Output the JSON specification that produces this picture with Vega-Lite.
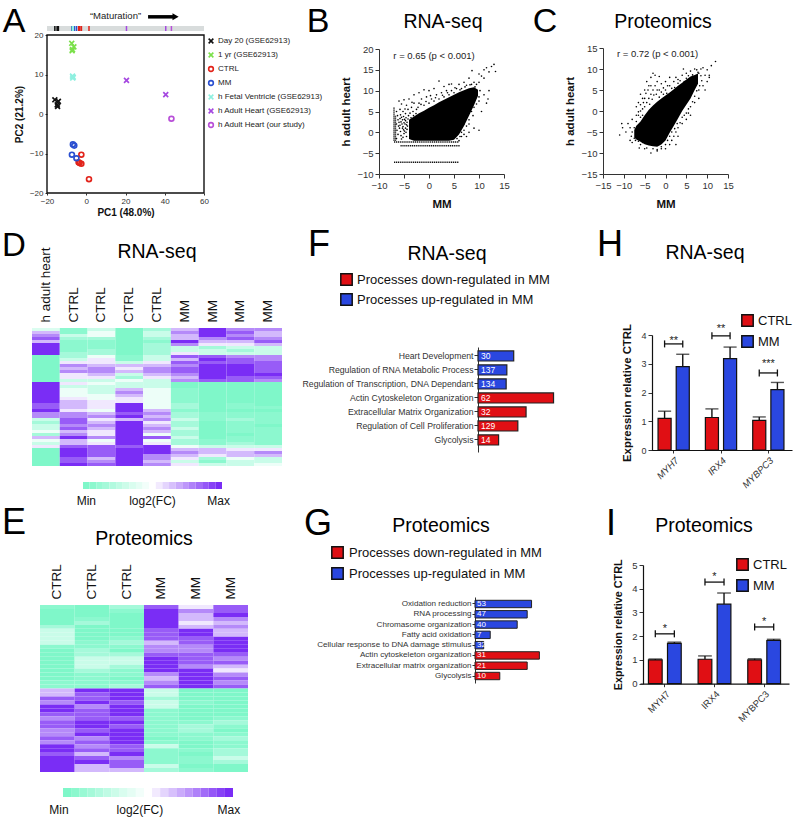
{"$schema":"https://vega.github.io/schema/vega-lite/v6.json","width":793,"height":819,"autosize":"none","padding":0,"background":"white",
"config":{"font":"Liberation Sans","view":{"stroke":null},"axis":{"grid":false,"labelColor":"#333","tickColor":"#333","domainColor":"#333","titleColor":"#111","labelFlush":false,"labelOverlap":false},"legend":{"title":null,"orient":"none","labelLimit":400}},
"resolve":{"scale":{"x":"independent","y":"independent","color":"independent","shape":"independent","xOffset":"independent"},"axis":{"x":"independent","y":"independent"},"legend":{"color":"independent","shape":"independent"}},
"datasets":{
"pca":[{"g":"Day 20 (GSE62913)","x":-16,"y":3.6},{"g":"Day 20 (GSE62913)","x":-14.2,"y":3.2},{"g":"Day 20 (GSE62913)","x":-14.8,"y":2.3},{"g":"Day 20 (GSE62913)","x":-14.6,"y":1.9},{"g":"1 yr (GSE62913)","x":-7.4,"y":17.9},{"g":"1 yr (GSE62913)","x":-6.3,"y":17},{"g":"1 yr (GSE62913)","x":-7.2,"y":16},{"g":"1 yr (GSE62913)","x":-7,"y":16.3},{"g":"CTRL","x":-2.5,"y":-10.3},{"g":"CTRL","x":-3.9,"y":-12.2},{"g":"CTRL","x":-2.5,"y":-12.6},{"g":"CTRL","x":-3.4,"y":-12.4},{"g":"CTRL","x":1.4,"y":-16.5},{"g":"MM","x":-6.8,"y":-7.7},{"g":"MM","x":-6.1,"y":-8},{"g":"MM","x":-7.3,"y":-10.3},{"g":"MM","x":-5,"y":-11.2},{"g":"h Fetal Ventricle (GSE62913)","x":-7,"y":9.6},{"g":"h Fetal Ventricle (GSE62913)","x":-6.6,"y":9.3},{"g":"h Fetal Ventricle (GSE62913)","x":-6.9,"y":9.1},{"g":"h Adult Heart (GSE62913)","x":20.5,"y":8.5},{"g":"h Adult Heart (GSE62913)","x":40.5,"y":4.9},{"g":"h Adult Heart (our study)","x":43.4,"y":-1.2}],
"bPts":[{"x":-6,"y":7.5},{"x":-5.5,"y":6.8},{"x":-5,"y":7.8},{"x":-4.5,"y":6.5},{"x":-4,"y":8},{"x":-3.5,"y":6},{"x":-3,"y":9},{"x":-3,"y":7},{"x":-2.5,"y":5.5},{"x":-2,"y":9.5},{"x":-2,"y":7},{"x":-1.5,"y":8},{"x":-1,"y":10.2},{"x":-1,"y":6.5},{"x":-0.5,"y":8.5},{"x":0,"y":10},{"x":0,"y":7},{"x":0.5,"y":8},{"x":1,"y":10.5},{"x":1,"y":7.5},{"x":1.5,"y":9},{"x":2,"y":12.3},{"x":2,"y":8},{"x":2.5,"y":9.5},{"x":3,"y":11},{"x":3,"y":8.5},{"x":3.5,"y":10},{"x":4,"y":11.5},{"x":4,"y":9},{"x":4.5,"y":11.6},{"x":4.5,"y":10},{"x":5,"y":9.5},{"x":5.5,"y":10.5},{"x":6,"y":11.5},{"x":6.5,"y":10.5},{"x":7,"y":12},{"x":7.5,"y":11.3},{"x":8,"y":13},{"x":8.5,"y":11.5},{"x":8.6,"y":14.8},{"x":9,"y":12},{"x":9.5,"y":11.5},{"x":10,"y":14},{"x":10,"y":12},{"x":10.5,"y":13.5},{"x":11,"y":15},{"x":11,"y":13},{"x":11.5,"y":15.5},{"x":12,"y":14.5},{"x":12.5,"y":15.8},{"x":13,"y":16.3},{"x":13.3,"y":14.6},{"x":7,"y":2},{"x":7.5,"y":4},{"x":8,"y":3},{"x":9,"y":1},{"x":10,"y":0.5},{"x":10.5,"y":5},{"x":11.5,"y":7},{"x":11.8,"y":8},{"x":12,"y":10},{"x":11,"y":9},{"x":8,"y":0},{"x":6.5,"y":0},{"x":6,"y":1},{"x":7,"y":0.5},{"x":8.5,"y":5},{"x":9,"y":6},{"x":10,"y":7.5},{"x":7.5,"y":1.5},{"x":6.5,"y":-1},{"x":7.5,"y":-1},{"x":6,"y":-2},{"x":-6.5,"y":5},{"x":-6.3,"y":4},{"x":-6.2,"y":3},{"x":-6.5,"y":2},{"x":-6.1,"y":1.5},{"x":-6.4,"y":0.5},{"x":-6.2,"y":-0.5},{"x":-6.5,"y":-1.5},{"x":-5.8,"y":5.5},{"x":-5.7,"y":4.2},{"x":-5.8,"y":3.3},{"x":-5.6,"y":2.5},{"x":-5.8,"y":1.7},{"x":-5.7,"y":0.2},{"x":-5.6,"y":-0.8},{"x":-5.5,"y":-1.6},{"x":-5.2,"y":5},{"x":-5.1,"y":3.8},{"x":-5.3,"y":3},{"x":-5,"y":2.3},{"x":-5.2,"y":1.4},{"x":-5.1,"y":0.6},{"x":-5,"y":-0.3},{"x":-5.2,"y":-1.2},{"x":-4.7,"y":4.5},{"x":-4.6,"y":3.5},{"x":-4.7,"y":2.8},{"x":-4.5,"y":1.8},{"x":-4.7,"y":1},{"x":-4.6,"y":0},{"x":-4.5,"y":-1},{"x":-4.2,"y":5.5},{"x":-4.1,"y":4},{"x":-4.2,"y":3.2},{"x":-3.8,"y":4.6},{"x":-3.6,"y":3.5},{"x":-3.2,"y":5},{"x":-3.1,"y":4},{"x":-2.6,"y":4.5},{"x":-6,"y":2.4},{"x":-5.4,"y":2},{"x":-5.9,"y":1},{"x":-5.3,"y":1},{"x":-4.8,"y":2},{"x":-4.3,"y":1.5},{"x":-4.4,"y":0.7},{"x":-4.9,"y":0.3},{"x":-5.5,"y":3.6},{"x":-4.9,"y":3.1},{"x":-4.4,"y":2.4},{"x":-4.8,"y":5.6},{"x":-3.4,"y":7.2},{"x":-2.2,"y":6},{"x":-1.6,"y":6.7},{"x":-0.6,"y":7.4},{"x":0.3,"y":8.8},{"x":1.3,"y":8.3},{"x":2.7,"y":8.9},{"x":3.7,"y":9.5},{"x":5.2,"y":10.7},{"x":6.2,"y":10.2},{"x":7.2,"y":10.9},{"x":8.2,"y":11.4},{"x":9.2,"y":10.9},{"x":10.2,"y":10},{"x":10,"y":8.5},{"x":9.5,"y":6.8},{"x":8.8,"y":4},{"x":8,"y":2},{"x":7,"y":-0.5},{"x":6.2,"y":-1},{"x":5.6,"y":-1.5}],
"bBlob":[{"x":-4,"lo":-1.6,"hi":3},{"x":-3,"lo":-2,"hi":3.8},{"x":-2,"lo":-2,"hi":4.6},{"x":-1,"lo":-2,"hi":5.2},{"x":0,"lo":-2,"hi":5.9},{"x":1,"lo":-2,"hi":6.5},{"x":2,"lo":-2,"hi":7.2},{"x":3,"lo":-2,"hi":7.8},{"x":4,"lo":-2,"hi":8.4},{"x":5,"lo":-1.8,"hi":9},{"x":6,"lo":-0.5,"hi":9.6},{"x":7,"lo":1.5,"hi":10.1},{"x":8,"lo":4,"hi":10.6},{"x":9,"lo":6.5,"hi":10.8},{"x":9.8,"lo":8.8,"hi":10.2}],
"bH":[{"x":-7,"x2":6,"y":-2.3},{"x":-5.7,"x2":6.2,"y":-3.2},{"x":-7,"x2":6,"y":-7.2}],
"bV":[{"x":-7,"y":-2,"y2":6},{"x":-6.7,"y":-2,"y2":4}],
"cPts":[{"x":-9,"y":-3},{"x":-10.5,"y":-3},{"x":-10.3,"y":-4},{"x":-11,"y":-5.7},{"x":-9.5,"y":-5},{"x":-8,"y":-5},{"x":-8.5,"y":-7},{"x":-8,"y":-7.5},{"x":-7.5,"y":-6.5},{"x":-7,"y":-1},{"x":-8,"y":-2},{"x":-7,"y":1},{"x":-6.5,"y":2},{"x":-6,"y":4},{"x":-6,"y":0},{"x":-5.5,"y":3},{"x":-5,"y":5},{"x":-5,"y":1},{"x":-4.5,"y":7},{"x":-4,"y":6},{"x":-4,"y":3},{"x":-3.5,"y":8},{"x":-3,"y":5},{"x":-3,"y":9},{"x":-2.5,"y":8.5},{"x":-2,"y":7},{"x":-2,"y":5},{"x":-1.5,"y":8.2},{"x":-1,"y":4.5},{"x":-1,"y":6.5},{"x":0,"y":5},{"x":0,"y":7},{"x":0.5,"y":6},{"x":1,"y":8},{"x":1,"y":6},{"x":2,"y":7},{"x":2.5,"y":8},{"x":3,"y":7.5},{"x":4,"y":8.5},{"x":4.3,"y":10},{"x":5,"y":9},{"x":6,"y":9.5},{"x":7,"y":10},{"x":7.5,"y":9.8},{"x":8,"y":9},{"x":8.5,"y":10},{"x":9,"y":10.3},{"x":9.5,"y":8.5},{"x":10,"y":9.8},{"x":10.5,"y":8},{"x":10,"y":7},{"x":10.5,"y":8.5},{"x":12,"y":11.8},{"x":11,"y":10.8},{"x":9,"y":6},{"x":9.5,"y":5},{"x":8,"y":5},{"x":8,"y":3},{"x":7,"y":2},{"x":6,"y":1},{"x":6,"y":-1},{"x":5.5,"y":-0.5},{"x":5,"y":-2},{"x":4.5,"y":-1},{"x":4,"y":-3},{"x":3,"y":-4},{"x":3,"y":-6},{"x":2.5,"y":-5},{"x":2,"y":-6},{"x":2.5,"y":-8},{"x":1.5,"y":-7},{"x":1,"y":-8},{"x":0,"y":-9},{"x":-1,"y":-9},{"x":-2,"y":-9.2},{"x":-3,"y":-9},{"x":-2,"y":-9.5},{"x":-3.5,"y":-10},{"x":-5,"y":-9},{"x":-6,"y":-8},{"x":-6.3,"y":-8.8},{"x":-1,"y":-8.5},{"x":-7,"y":-2.5},{"x":-6.5,"y":-1},{"x":-6.5,"y":-0.2},{"x":-6,"y":1.5},{"x":-6,"y":-1.5},{"x":-5.5,"y":0.5},{"x":-5.5,"y":-1},{"x":-5.3,"y":2},{"x":-5,"y":3},{"x":-4.7,"y":4.2},{"x":-4.5,"y":2},{"x":-4.2,"y":5},{"x":-3.8,"y":1.6},{"x":-3.5,"y":4},{"x":-3.5,"y":6},{"x":-3.2,"y":2.8},{"x":-2.8,"y":3.8},{"x":-2.5,"y":6},{"x":-2.2,"y":4},{"x":-1.5,"y":5},{"x":-1.5,"y":3.3},{"x":-0.5,"y":4},{"x":-0.5,"y":5.5},{"x":0.3,"y":4.2},{"x":1.5,"y":5.4},{"x":2.2,"y":5.6},{"x":3,"y":6.6},{"x":3.5,"y":7.2},{"x":4.5,"y":7},{"x":5,"y":7.8},{"x":5.5,"y":8.4},{"x":6.5,"y":8.6},{"x":7.8,"y":9.2},{"x":8.5,"y":8.4},{"x":8.7,"y":7.2},{"x":8.2,"y":6},{"x":7.5,"y":4.8},{"x":7,"y":3.5},{"x":6.5,"y":2.2},{"x":5.5,"y":0.5},{"x":5,"y":-0.5},{"x":4,"y":-1.5},{"x":3.5,"y":-2.8},{"x":2.8,"y":-3},{"x":2.2,"y":-4.2},{"x":1.5,"y":-5},{"x":1,"y":-6},{"x":0.5,"y":-7},{"x":0,"y":-8},{"x":-4.5,"y":-8.8},{"x":-5.5,"y":-7.5},{"x":-6.5,"y":-7.2},{"x":-7.2,"y":-7},{"x":-7.5,"y":-4},{"x":-8.5,"y":-4},{"x":-8.2,"y":-6}],
"cBlob":[{"x":-7.5,"lo":-6.3,"hi":-4.5},{"x":-7,"lo":-6.8,"hi":-3.5},{"x":-6,"lo":-7.3,"hi":-2.5},{"x":-5,"lo":-7.9,"hi":-1},{"x":-4,"lo":-8.2,"hi":0.3},{"x":-3,"lo":-8.4,"hi":1.3},{"x":-2,"lo":-8.5,"hi":2.2},{"x":-1,"lo":-8,"hi":3},{"x":0,"lo":-7,"hi":3.7},{"x":1,"lo":-5.2,"hi":4.4},{"x":2,"lo":-3.5,"hi":5.2},{"x":3,"lo":-1.8,"hi":6},{"x":4,"lo":0,"hi":6.7},{"x":5,"lo":1.5,"hi":7.5},{"x":6,"lo":3,"hi":8.2},{"x":7,"lo":5,"hi":8.6},{"x":7.8,"lo":6.5,"hi":8.9}],
"fBars":[{"p":"Heart Development","d":"Processes up-regulated in MM","v":5.2,"n":"30"},{"p":"Regulation of RNA Metabolic Process","d":"Processes up-regulated in MM","v":4.2,"n":"137"},{"p":"Regulation of Transcription, DNA Dependant","d":"Processes up-regulated in MM","v":4.1,"n":"134"},{"p":"Actin Cytoskeleton Organization","d":"Processes down-regulated in MM","v":11,"n":"62"},{"p":"Extracellular Matrix Organization","d":"Processes down-regulated in MM","v":7,"n":"32"},{"p":"Regulation of Cell Proliferation","d":"Processes down-regulated in MM","v":5.8,"n":"129"},{"p":"Glycolysis","d":"Processes down-regulated in MM","v":3,"n":"14"}],
"gBars":[{"p":"Oxidation reduction","d":"Processes up-regulated in MM","v":13,"n":"53"},{"p":"RNA processing","d":"Processes up-regulated in MM","v":12,"n":"47"},{"p":"Chromasome organization","d":"Processes up-regulated in MM","v":9.7,"n":"40"},{"p":"Fatty acid oxidation","d":"Processes up-regulated in MM","v":3.5,"n":"7"},{"p":"Cellular response to DNA damage stimulus","d":"Processes up-regulated in MM","v":2,"n":"32"},{"p":"Actin cytoskeleton organization","d":"Processes down-regulated in MM","v":14.8,"n":"31"},{"p":"Extracellular matrix organization","d":"Processes down-regulated in MM","v":12,"n":"21"},{"p":"Glycolysis","d":"Processes down-regulated in MM","v":5.7,"n":"10"}],
"hBars":[{"g":"MYH7","s":"CTRL","v":1.1,"e":1.35},{"g":"MYH7","s":"MM","v":2.9,"e":3.33},{"g":"IRX4","s":"CTRL","v":1.13,"e":1.43},{"g":"IRX4","s":"MM","v":3.18,"e":3.58},{"g":"MYBPC3","s":"CTRL","v":1.03,"e":1.15},{"g":"MYBPC3","s":"MM","v":2.1,"e":2.35}],
"hBr":[{"g":"MYH7","s":"CTRL","v":3.69},{"g":"MYH7","s":"MM","v":3.69},{"g":"IRX4","s":"CTRL","v":3.97},{"g":"IRX4","s":"MM","v":3.97},{"g":"MYBPC3","s":"CTRL","v":2.68},{"g":"MYBPC3","s":"MM","v":2.68}],
"hSt":[{"g":"MYH7","t":"**","v":3.8},{"g":"IRX4","t":"**","v":4.2},{"g":"MYBPC3","t":"***","v":2.98}],
"iBars":[{"g":"MYH7","s":"CTRL","v":1,"e":1.04},{"g":"MYH7","s":"MM","v":1.7,"e":1.75},{"g":"IRX4","s":"CTRL","v":1.03,"e":1.17},{"g":"IRX4","s":"MM","v":3.35,"e":3.82},{"g":"MYBPC3","s":"CTRL","v":1,"e":1.05},{"g":"MYBPC3","s":"MM","v":1.82,"e":1.87}],
"iBr":[{"g":"MYH7","s":"CTRL","v":2.1},{"g":"MYH7","s":"MM","v":2.1},{"g":"IRX4","s":"CTRL","v":4.28},{"g":"IRX4","s":"MM","v":4.28},{"g":"MYBPC3","s":"CTRL","v":2.39},{"g":"MYBPC3","s":"MM","v":2.39}],
"iSt":[{"g":"MYH7","t":"*","v":2.3},{"g":"IRX4","t":"*","v":4.5},{"g":"MYBPC3","t":"*","v":2.6}],
"steps":[{"s":0},{"s":1},{"s":2},{"s":3},{"s":4},{"s":5},{"s":6},{"s":7},{"s":8},{"s":9},{"s":10},{"s":11},{"s":12},{"s":13},{"s":14},{"s":15},{"s":16},{"s":17},{"s":18},{"s":19},{"s":20}],
"dHeat":[
{"r":0,"c":0,"v":3.5},{"r":0,"c":1,"v":1},{"r":0,"c":2,"v":3},{"r":0,"c":3,"v":0},{"r":0,"c":4,"v":2},{"r":0,"c":5,"v":6},{"r":0,"c":6,"v":9},{"r":0,"c":7,"v":7},{"r":0,"c":8,"v":7},
{"r":1,"c":0,"v":6},{"r":1,"c":1,"v":1},{"r":1,"c":2,"v":4},{"r":1,"c":3,"v":0},{"r":1,"c":4,"v":3},{"r":1,"c":5,"v":7},{"r":1,"c":6,"v":9},{"r":1,"c":7,"v":8},{"r":1,"c":8,"v":6},
{"r":2,"c":0,"v":7},{"r":2,"c":1,"v":3},{"r":2,"c":2,"v":4},{"r":2,"c":3,"v":0},{"r":2,"c":4,"v":3},{"r":2,"c":5,"v":6},{"r":2,"c":6,"v":9},{"r":2,"c":7,"v":7},{"r":2,"c":8,"v":6},
{"r":3,"c":0,"v":8},{"r":3,"c":1,"v":2},{"r":3,"c":2,"v":2},{"r":3,"c":3,"v":0},{"r":3,"c":4,"v":2},{"r":3,"c":5,"v":6},{"r":3,"c":6,"v":7},{"r":3,"c":7,"v":8},{"r":3,"c":8,"v":7},
{"r":4,"c":0,"v":6},{"r":4,"c":1,"v":1},{"r":4,"c":2,"v":1},{"r":4,"c":3,"v":0},{"r":4,"c":4,"v":1},{"r":4,"c":5,"v":9},{"r":4,"c":6,"v":6},{"r":4,"c":7,"v":6},{"r":4,"c":8,"v":8},
{"r":5,"c":0,"v":9},{"r":5,"c":1,"v":1},{"r":5,"c":2,"v":1},{"r":5,"c":3,"v":0},{"r":5,"c":4,"v":2},{"r":5,"c":5,"v":7},{"r":5,"c":6,"v":5},{"r":5,"c":7,"v":5},{"r":5,"c":8,"v":6},
{"r":6,"c":0,"v":9},{"r":6,"c":1,"v":1},{"r":6,"c":2,"v":1},{"r":6,"c":3,"v":0},{"r":6,"c":4,"v":2},{"r":6,"c":5,"v":3},{"r":6,"c":6,"v":2},{"r":6,"c":7,"v":3},{"r":6,"c":8,"v":3},
{"r":7,"c":0,"v":9},{"r":7,"c":1,"v":1},{"r":7,"c":2,"v":2},{"r":7,"c":3,"v":0},{"r":7,"c":4,"v":2},{"r":7,"c":5,"v":3},{"r":7,"c":6,"v":3},{"r":7,"c":7,"v":2},{"r":7,"c":8,"v":3},
{"r":8,"c":0,"v":9},{"r":8,"c":1,"v":2},{"r":8,"c":2,"v":2},{"r":8,"c":3,"v":0},{"r":8,"c":4,"v":2},{"r":8,"c":5,"v":5},{"r":8,"c":6,"v":3},{"r":8,"c":7,"v":3},{"r":8,"c":8,"v":3},
{"r":9,"c":0,"v":0},{"r":9,"c":1,"v":2},{"r":9,"c":2,"v":4},{"r":9,"c":3,"v":1},{"r":9,"c":4,"v":3},{"r":9,"c":5,"v":8},{"r":9,"c":6,"v":8},{"r":9,"c":7,"v":7},{"r":9,"c":8,"v":7},
{"r":10,"c":0,"v":0},{"r":10,"c":1,"v":3},{"r":10,"c":2,"v":5},{"r":10,"c":3,"v":1},{"r":10,"c":4,"v":3},{"r":10,"c":5,"v":6},{"r":10,"c":6,"v":9},{"r":10,"c":7,"v":8},{"r":10,"c":8,"v":7},
{"r":11,"c":0,"v":0},{"r":11,"c":1,"v":5},{"r":11,"c":2,"v":5},{"r":11,"c":3,"v":3},{"r":11,"c":4,"v":5},{"r":11,"c":5,"v":8},{"r":11,"c":6,"v":8},{"r":11,"c":7,"v":8},{"r":11,"c":8,"v":8},
{"r":12,"c":0,"v":0},{"r":12,"c":1,"v":7},{"r":12,"c":2,"v":6},{"r":12,"c":3,"v":6},{"r":12,"c":4,"v":6},{"r":12,"c":5,"v":7},{"r":12,"c":6,"v":9},{"r":12,"c":7,"v":9},{"r":12,"c":8,"v":8},
{"r":13,"c":0,"v":0},{"r":13,"c":1,"v":6},{"r":13,"c":2,"v":7},{"r":13,"c":3,"v":5},{"r":13,"c":4,"v":7},{"r":13,"c":5,"v":8},{"r":13,"c":6,"v":9},{"r":13,"c":7,"v":9},{"r":13,"c":8,"v":8},
{"r":14,"c":0,"v":0},{"r":14,"c":1,"v":7},{"r":14,"c":2,"v":7},{"r":14,"c":3,"v":6},{"r":14,"c":4,"v":7},{"r":14,"c":5,"v":8},{"r":14,"c":6,"v":9},{"r":14,"c":7,"v":9},{"r":14,"c":8,"v":8},
{"r":15,"c":0,"v":0},{"r":15,"c":1,"v":5},{"r":15,"c":2,"v":6},{"r":15,"c":3,"v":3},{"r":15,"c":4,"v":6},{"r":15,"c":5,"v":7},{"r":15,"c":6,"v":9},{"r":15,"c":7,"v":9},{"r":15,"c":8,"v":9},
{"r":16,"c":0,"v":0},{"r":16,"c":1,"v":5},{"r":16,"c":2,"v":5},{"r":16,"c":3,"v":2},{"r":16,"c":4,"v":5},{"r":16,"c":5,"v":6},{"r":16,"c":6,"v":9},{"r":16,"c":7,"v":8},{"r":16,"c":8,"v":8},
{"r":17,"c":0,"v":0},{"r":17,"c":1,"v":3},{"r":17,"c":2,"v":3},{"r":17,"c":3,"v":4},{"r":17,"c":4,"v":3},{"r":17,"c":5,"v":7},{"r":17,"c":6,"v":8},{"r":17,"c":7,"v":8},{"r":17,"c":8,"v":7},
{"r":18,"c":0,"v":9},{"r":18,"c":1,"v":5},{"r":18,"c":2,"v":4},{"r":18,"c":3,"v":3},{"r":18,"c":4,"v":3},{"r":18,"c":5,"v":0},{"r":18,"c":6,"v":0},{"r":18,"c":7,"v":0},{"r":18,"c":8,"v":0},
{"r":19,"c":0,"v":9},{"r":19,"c":1,"v":3},{"r":19,"c":2,"v":3},{"r":19,"c":3,"v":3},{"r":19,"c":4,"v":3},{"r":19,"c":5,"v":0},{"r":19,"c":6,"v":0},{"r":19,"c":7,"v":0},{"r":19,"c":8,"v":0},
{"r":20,"c":0,"v":9},{"r":20,"c":1,"v":4},{"r":20,"c":2,"v":3},{"r":20,"c":3,"v":6},{"r":20,"c":4,"v":4},{"r":20,"c":5,"v":1},{"r":20,"c":6,"v":0},{"r":20,"c":7,"v":0},{"r":20,"c":8,"v":0},
{"r":21,"c":0,"v":9},{"r":21,"c":1,"v":4},{"r":21,"c":2,"v":3},{"r":21,"c":3,"v":7},{"r":21,"c":4,"v":4},{"r":21,"c":5,"v":1},{"r":21,"c":6,"v":0},{"r":21,"c":7,"v":0},{"r":21,"c":8,"v":0},
{"r":22,"c":0,"v":9},{"r":22,"c":1,"v":4},{"r":22,"c":2,"v":4},{"r":22,"c":3,"v":6},{"r":22,"c":4,"v":4},{"r":22,"c":5,"v":1},{"r":22,"c":6,"v":0},{"r":22,"c":7,"v":0},{"r":22,"c":8,"v":0},
{"r":23,"c":0,"v":9},{"r":23,"c":1,"v":5},{"r":23,"c":2,"v":4},{"r":23,"c":3,"v":5},{"r":23,"c":4,"v":4},{"r":23,"c":5,"v":1},{"r":23,"c":6,"v":0},{"r":23,"c":7,"v":0},{"r":23,"c":8,"v":0},
{"r":24,"c":0,"v":9},{"r":24,"c":1,"v":6},{"r":24,"c":2,"v":5},{"r":24,"c":3,"v":5},{"r":24,"c":4,"v":4},{"r":24,"c":5,"v":1},{"r":24,"c":6,"v":0},{"r":24,"c":7,"v":0},{"r":24,"c":8,"v":0},
{"r":25,"c":0,"v":8},{"r":25,"c":1,"v":6},{"r":25,"c":2,"v":5},{"r":25,"c":3,"v":9},{"r":25,"c":4,"v":4},{"r":25,"c":5,"v":2},{"r":25,"c":6,"v":0},{"r":25,"c":7,"v":1},{"r":25,"c":8,"v":0},
{"r":26,"c":0,"v":8},{"r":26,"c":1,"v":6},{"r":26,"c":2,"v":5},{"r":26,"c":3,"v":9},{"r":26,"c":4,"v":4},{"r":26,"c":5,"v":2},{"r":26,"c":6,"v":0},{"r":26,"c":7,"v":1},{"r":26,"c":8,"v":1},
{"r":27,"c":0,"v":9},{"r":27,"c":1,"v":5},{"r":27,"c":2,"v":4},{"r":27,"c":3,"v":9},{"r":27,"c":4,"v":6},{"r":27,"c":5,"v":1},{"r":27,"c":6,"v":0},{"r":27,"c":7,"v":0},{"r":27,"c":8,"v":0},
{"r":28,"c":0,"v":7},{"r":28,"c":1,"v":7},{"r":28,"c":2,"v":6},{"r":28,"c":3,"v":8},{"r":28,"c":4,"v":7},{"r":28,"c":5,"v":2},{"r":28,"c":6,"v":1},{"r":28,"c":7,"v":1},{"r":28,"c":8,"v":1},
{"r":29,"c":0,"v":7},{"r":29,"c":1,"v":7},{"r":29,"c":2,"v":7},{"r":29,"c":3,"v":9},{"r":29,"c":4,"v":6},{"r":29,"c":5,"v":2},{"r":29,"c":6,"v":1},{"r":29,"c":7,"v":1},{"r":29,"c":8,"v":1},
{"r":30,"c":0,"v":3},{"r":30,"c":1,"v":8},{"r":30,"c":2,"v":5},{"r":30,"c":3,"v":6},{"r":30,"c":4,"v":7},{"r":30,"c":5,"v":3},{"r":30,"c":6,"v":1},{"r":30,"c":7,"v":2},{"r":30,"c":8,"v":1},
{"r":31,"c":0,"v":2},{"r":31,"c":1,"v":8},{"r":31,"c":2,"v":6},{"r":31,"c":3,"v":9},{"r":31,"c":4,"v":5},{"r":31,"c":5,"v":2},{"r":31,"c":6,"v":0},{"r":31,"c":7,"v":1},{"r":31,"c":8,"v":1},
{"r":32,"c":0,"v":3},{"r":32,"c":1,"v":7},{"r":32,"c":2,"v":7},{"r":32,"c":3,"v":9},{"r":32,"c":4,"v":6},{"r":32,"c":5,"v":2},{"r":32,"c":6,"v":0},{"r":32,"c":7,"v":1},{"r":32,"c":8,"v":0},
{"r":33,"c":0,"v":3},{"r":33,"c":1,"v":8},{"r":33,"c":2,"v":6},{"r":33,"c":3,"v":9},{"r":33,"c":4,"v":7},{"r":33,"c":5,"v":3},{"r":33,"c":6,"v":0},{"r":33,"c":7,"v":1},{"r":33,"c":8,"v":1},
{"r":34,"c":0,"v":4},{"r":34,"c":1,"v":6},{"r":34,"c":2,"v":5},{"r":34,"c":3,"v":9},{"r":34,"c":4,"v":6},{"r":34,"c":5,"v":2},{"r":34,"c":6,"v":0},{"r":34,"c":7,"v":1},{"r":34,"c":8,"v":1},
{"r":35,"c":0,"v":2},{"r":35,"c":1,"v":7},{"r":35,"c":2,"v":5},{"r":35,"c":3,"v":9},{"r":35,"c":4,"v":4},{"r":35,"c":5,"v":2},{"r":35,"c":6,"v":0},{"r":35,"c":7,"v":0},{"r":35,"c":8,"v":1},
{"r":36,"c":0,"v":6},{"r":36,"c":1,"v":9},{"r":36,"c":2,"v":7},{"r":36,"c":3,"v":9},{"r":36,"c":4,"v":8},{"r":36,"c":5,"v":3},{"r":36,"c":6,"v":0},{"r":36,"c":7,"v":1},{"r":36,"c":8,"v":1},
{"r":37,"c":0,"v":4},{"r":37,"c":1,"v":6},{"r":37,"c":2,"v":4},{"r":37,"c":3,"v":9},{"r":37,"c":4,"v":4},{"r":37,"c":5,"v":2},{"r":37,"c":6,"v":1},{"r":37,"c":7,"v":1},{"r":37,"c":8,"v":1},
{"r":38,"c":0,"v":3},{"r":38,"c":1,"v":6},{"r":38,"c":2,"v":5},{"r":38,"c":3,"v":9},{"r":38,"c":4,"v":5},{"r":38,"c":5,"v":2},{"r":38,"c":6,"v":1},{"r":38,"c":7,"v":2},{"r":38,"c":8,"v":1},
{"r":39,"c":0,"v":5},{"r":39,"c":1,"v":8},{"r":39,"c":2,"v":8},{"r":39,"c":3,"v":8},{"r":39,"c":4,"v":9},{"r":39,"c":5,"v":4},{"r":39,"c":6,"v":3},{"r":39,"c":7,"v":3},{"r":39,"c":8,"v":3},
{"r":40,"c":0,"v":0},{"r":40,"c":1,"v":9},{"r":40,"c":2,"v":8},{"r":40,"c":3,"v":9},{"r":40,"c":4,"v":9},{"r":40,"c":5,"v":6},{"r":40,"c":6,"v":6},{"r":40,"c":7,"v":5},{"r":40,"c":8,"v":5},
{"r":41,"c":0,"v":0},{"r":41,"c":1,"v":9},{"r":41,"c":2,"v":8},{"r":41,"c":3,"v":9},{"r":41,"c":4,"v":9},{"r":41,"c":5,"v":7},{"r":41,"c":6,"v":6},{"r":41,"c":7,"v":6},{"r":41,"c":8,"v":7},
{"r":42,"c":0,"v":0},{"r":42,"c":1,"v":9},{"r":42,"c":2,"v":8},{"r":42,"c":3,"v":9},{"r":42,"c":4,"v":7},{"r":42,"c":5,"v":6},{"r":42,"c":6,"v":5},{"r":42,"c":7,"v":6},{"r":42,"c":8,"v":6},
{"r":43,"c":0,"v":0},{"r":43,"c":1,"v":8},{"r":43,"c":2,"v":6},{"r":43,"c":3,"v":9},{"r":43,"c":4,"v":7},{"r":43,"c":5,"v":5},{"r":43,"c":6,"v":2},{"r":43,"c":7,"v":4},{"r":43,"c":8,"v":3},
{"r":44,"c":0,"v":0},{"r":44,"c":1,"v":8},{"r":44,"c":2,"v":7},{"r":44,"c":3,"v":9},{"r":44,"c":4,"v":6},{"r":44,"c":5,"v":3},{"r":44,"c":6,"v":1},{"r":44,"c":7,"v":3},{"r":44,"c":8,"v":3},
{"r":45,"c":0,"v":0},{"r":45,"c":1,"v":9},{"r":45,"c":2,"v":8},{"r":45,"c":3,"v":9},{"r":45,"c":4,"v":7},{"r":45,"c":5,"v":5},{"r":45,"c":6,"v":3},{"r":45,"c":7,"v":3},{"r":45,"c":8,"v":4}],
"eHeat":[
{"r":0,"c":0,"v":1},{"r":0,"c":1,"v":0},{"r":0,"c":2,"v":2},{"r":0,"c":3,"v":8},{"r":0,"c":4,"v":5},{"r":0,"c":5,"v":8},
{"r":1,"c":0,"v":0},{"r":1,"c":1,"v":0},{"r":1,"c":2,"v":1},{"r":1,"c":3,"v":9},{"r":1,"c":4,"v":7},{"r":1,"c":5,"v":8},
{"r":2,"c":0,"v":0},{"r":2,"c":1,"v":0},{"r":2,"c":2,"v":0},{"r":2,"c":3,"v":9},{"r":2,"c":4,"v":6},{"r":2,"c":5,"v":9},
{"r":3,"c":0,"v":0},{"r":3,"c":1,"v":1},{"r":3,"c":2,"v":0},{"r":3,"c":3,"v":9},{"r":3,"c":4,"v":6},{"r":3,"c":5,"v":7},
{"r":4,"c":0,"v":0},{"r":4,"c":1,"v":2},{"r":4,"c":2,"v":0},{"r":4,"c":3,"v":9},{"r":4,"c":4,"v":5},{"r":4,"c":5,"v":6},
{"r":5,"c":0,"v":2},{"r":5,"c":1,"v":0},{"r":5,"c":2,"v":0},{"r":5,"c":3,"v":9},{"r":5,"c":4,"v":6},{"r":5,"c":5,"v":7},
{"r":6,"c":0,"v":3},{"r":6,"c":1,"v":0},{"r":6,"c":2,"v":0},{"r":6,"c":3,"v":8},{"r":6,"c":4,"v":9},{"r":6,"c":5,"v":6},
{"r":7,"c":0,"v":3},{"r":7,"c":1,"v":0},{"r":7,"c":2,"v":0},{"r":7,"c":3,"v":8},{"r":7,"c":4,"v":9},{"r":7,"c":5,"v":6},
{"r":8,"c":0,"v":3},{"r":8,"c":1,"v":0},{"r":8,"c":2,"v":1},{"r":8,"c":3,"v":8},{"r":8,"c":4,"v":8},{"r":8,"c":5,"v":9},
{"r":9,"c":0,"v":3},{"r":9,"c":1,"v":1},{"r":9,"c":2,"v":2},{"r":9,"c":3,"v":6},{"r":9,"c":4,"v":8},{"r":9,"c":5,"v":9},
{"r":10,"c":0,"v":1},{"r":10,"c":1,"v":1},{"r":10,"c":2,"v":1},{"r":10,"c":3,"v":7},{"r":10,"c":4,"v":7},{"r":10,"c":5,"v":9},
{"r":11,"c":0,"v":0},{"r":11,"c":1,"v":2},{"r":11,"c":2,"v":0},{"r":11,"c":3,"v":7},{"r":11,"c":4,"v":7},{"r":11,"c":5,"v":9},
{"r":12,"c":0,"v":0},{"r":12,"c":1,"v":2},{"r":12,"c":2,"v":2},{"r":12,"c":3,"v":8},{"r":12,"c":4,"v":8},{"r":12,"c":5,"v":8},
{"r":13,"c":0,"v":0},{"r":13,"c":1,"v":3},{"r":13,"c":2,"v":3},{"r":13,"c":3,"v":9},{"r":13,"c":4,"v":8},{"r":13,"c":5,"v":7},
{"r":14,"c":0,"v":0},{"r":14,"c":1,"v":3},{"r":14,"c":2,"v":3},{"r":14,"c":3,"v":9},{"r":14,"c":4,"v":8},{"r":14,"c":5,"v":8},
{"r":15,"c":0,"v":0},{"r":15,"c":1,"v":3},{"r":15,"c":2,"v":2},{"r":15,"c":3,"v":9},{"r":15,"c":4,"v":7},{"r":15,"c":5,"v":6},
{"r":16,"c":0,"v":0},{"r":16,"c":1,"v":2},{"r":16,"c":2,"v":1},{"r":16,"c":3,"v":9},{"r":16,"c":4,"v":9},{"r":16,"c":5,"v":5},
{"r":17,"c":0,"v":0},{"r":17,"c":1,"v":1},{"r":17,"c":2,"v":1},{"r":17,"c":3,"v":7},{"r":17,"c":4,"v":9},{"r":17,"c":5,"v":7},
{"r":18,"c":0,"v":0},{"r":18,"c":1,"v":1},{"r":18,"c":2,"v":0},{"r":18,"c":3,"v":6},{"r":18,"c":4,"v":9},{"r":18,"c":5,"v":8},
{"r":19,"c":0,"v":1},{"r":19,"c":1,"v":1},{"r":19,"c":2,"v":1},{"r":19,"c":3,"v":7},{"r":19,"c":4,"v":9},{"r":19,"c":5,"v":7},
{"r":20,"c":0,"v":1},{"r":20,"c":1,"v":1},{"r":20,"c":2,"v":2},{"r":20,"c":3,"v":8},{"r":20,"c":4,"v":9},{"r":20,"c":5,"v":8},
{"r":21,"c":0,"v":6},{"r":21,"c":1,"v":9},{"r":21,"c":2,"v":9},{"r":21,"c":3,"v":3},{"r":21,"c":4,"v":0},{"r":21,"c":5,"v":0},
{"r":22,"c":0,"v":6},{"r":22,"c":1,"v":8},{"r":22,"c":2,"v":9},{"r":22,"c":3,"v":3},{"r":22,"c":4,"v":0},{"r":22,"c":5,"v":0},
{"r":23,"c":0,"v":8},{"r":23,"c":1,"v":8},{"r":23,"c":2,"v":9},{"r":23,"c":3,"v":2},{"r":23,"c":4,"v":0},{"r":23,"c":5,"v":0},
{"r":24,"c":0,"v":7},{"r":24,"c":1,"v":9},{"r":24,"c":2,"v":8},{"r":24,"c":3,"v":3},{"r":24,"c":4,"v":1},{"r":24,"c":5,"v":0},
{"r":25,"c":0,"v":9},{"r":25,"c":1,"v":7},{"r":25,"c":2,"v":9},{"r":25,"c":3,"v":3},{"r":25,"c":4,"v":0},{"r":25,"c":5,"v":0},
{"r":26,"c":0,"v":9},{"r":26,"c":1,"v":8},{"r":26,"c":2,"v":9},{"r":26,"c":3,"v":1},{"r":26,"c":4,"v":0},{"r":26,"c":5,"v":0},
{"r":27,"c":0,"v":8},{"r":27,"c":1,"v":8},{"r":27,"c":2,"v":9},{"r":27,"c":3,"v":1},{"r":27,"c":4,"v":0},{"r":27,"c":5,"v":0},
{"r":28,"c":0,"v":7},{"r":28,"c":1,"v":8},{"r":28,"c":2,"v":8},{"r":28,"c":3,"v":1},{"r":28,"c":4,"v":0},{"r":28,"c":5,"v":1},
{"r":29,"c":0,"v":8},{"r":29,"c":1,"v":9},{"r":29,"c":2,"v":9},{"r":29,"c":3,"v":1},{"r":29,"c":4,"v":1},{"r":29,"c":5,"v":2},
{"r":30,"c":0,"v":8},{"r":30,"c":1,"v":9},{"r":30,"c":2,"v":8},{"r":30,"c":3,"v":1},{"r":30,"c":4,"v":2},{"r":30,"c":5,"v":1},
{"r":31,"c":0,"v":7},{"r":31,"c":1,"v":8},{"r":31,"c":2,"v":9},{"r":31,"c":3,"v":1},{"r":31,"c":4,"v":2},{"r":31,"c":5,"v":0},
{"r":32,"c":0,"v":7},{"r":32,"c":1,"v":9},{"r":32,"c":2,"v":9},{"r":32,"c":3,"v":1},{"r":32,"c":4,"v":1},{"r":32,"c":5,"v":1},
{"r":33,"c":0,"v":8},{"r":33,"c":1,"v":7},{"r":33,"c":2,"v":9},{"r":33,"c":3,"v":0},{"r":33,"c":4,"v":1},{"r":33,"c":5,"v":2},
{"r":34,"c":0,"v":7},{"r":34,"c":1,"v":8},{"r":34,"c":2,"v":9},{"r":34,"c":3,"v":1},{"r":34,"c":4,"v":0},{"r":34,"c":5,"v":1},
{"r":35,"c":0,"v":9},{"r":35,"c":1,"v":7},{"r":35,"c":2,"v":8},{"r":35,"c":3,"v":3},{"r":35,"c":4,"v":0},{"r":35,"c":5,"v":1},
{"r":36,"c":0,"v":9},{"r":36,"c":1,"v":8},{"r":36,"c":2,"v":8},{"r":36,"c":3,"v":1},{"r":36,"c":4,"v":1},{"r":36,"c":5,"v":2},
{"r":37,"c":0,"v":8},{"r":37,"c":1,"v":6},{"r":37,"c":2,"v":9},{"r":37,"c":3,"v":1},{"r":37,"c":4,"v":0},{"r":37,"c":5,"v":2},
{"r":38,"c":0,"v":9},{"r":38,"c":1,"v":8},{"r":38,"c":2,"v":7},{"r":38,"c":3,"v":1},{"r":38,"c":4,"v":1},{"r":38,"c":5,"v":3},
{"r":39,"c":0,"v":9},{"r":39,"c":1,"v":9},{"r":39,"c":2,"v":8},{"r":39,"c":3,"v":1},{"r":39,"c":4,"v":1},{"r":39,"c":5,"v":2},
{"r":40,"c":0,"v":9},{"r":40,"c":1,"v":6},{"r":40,"c":2,"v":8},{"r":40,"c":3,"v":3},{"r":40,"c":4,"v":0},{"r":40,"c":5,"v":0},
{"r":41,"c":0,"v":9},{"r":41,"c":1,"v":6},{"r":41,"c":2,"v":6},{"r":41,"c":3,"v":2},{"r":41,"c":4,"v":1},{"r":41,"c":5,"v":0}]
},
"layer":[
{"data":{"values":[{"t":"A"}]},"mark":{"type":"text","fontSize":34},"encoding":{"text":{"field":"t"},"x":{"field":"t","type":"nominal","axis":null,"scale":{"range":[14,14]}},"y":{"field":"t","type":"nominal","axis":null,"scale":{"range":[22,22]}}}},
{"layer":[
{"mark":{"type":"rule","color":"#d8dcdc","strokeWidth":5},"data":{"values":[{"a":1}]},"encoding":{"x":{"datum":-20,"type":"quantitative","axis":null,"scale":{"domain":[-20,60],"range":[47,204]}},"x2":{"datum":60},"y":{"datum":0.5,"type":"quantitative","axis":null,"scale":{"domain":[0,1],"range":[31,26]}}}},
{"mark":{"type":"rule","strokeWidth":1.5},"data":{"name":"pca"},"encoding":{"x":{"field":"x","type":"quantitative","axis":null,"scale":{"domain":[-20,60],"range":[47,204]}},"y":{"datum":0,"type":"quantitative","axis":null,"scale":{"domain":[0,1],"range":[31,26]}},"y2":{"datum":1},"color":{"field":"g","type":"nominal","legend":null,"scale":{"domain":["Day 20 (GSE62913)","1 yr (GSE62913)","CTRL","MM","h Fetal Ventricle (GSE62913)","h Adult Heart (GSE62913)","h Adult Heart (our study)"],"range":["#111111","#7be04a","#e2231a","#2a4fd0","#8ff0e0","#a548e0","#b84fd8"]}}}}
]},
{"data":{"values":[{"a":1}]},"mark":{"type":"rect","fillOpacity":0,"stroke":"#111","strokeWidth":1.4},"encoding":{"x":{"datum":-20,"type":"quantitative","axis":null,"scale":{"domain":[-20,60],"range":[47,204]}},"x2":{"datum":60},"y":{"datum":-20,"type":"quantitative","axis":null,"scale":{"domain":[-20,20],"range":[193,35]}},"y2":{"datum":20}}},
{"data":{"name":"pca"},"mark":{"type":"point","filled":false,"strokeWidth":1.7,"size":24,"opacity":1},"encoding":{
"x":{"field":"x","type":"quantitative","scale":{"domain":[-20,60],"range":[47,204]},"axis":{"orient":"bottom","offset":-626,"values":[-20,0,20,40,60],"title":"PC1 (48.0%)","titleFontSize":10,"titleFontWeight":"bold","titlePadding":2,"labelFontSize":8,"tickSize":2,"domain":false}},
"y":{"field":"y","type":"quantitative","scale":{"domain":[-20,20],"range":[193,35]},"axis":{"orient":"left","offset":-47,"values":[-20,-10,0,10,20],"title":"PC2 (21.2%)","titleFontSize":10,"titleFontWeight":"bold","titlePadding":5,"labelFontSize":8,"tickSize":2,"domain":false}},
"color":{"field":"g","type":"nominal","scale":{"domain":["Day 20 (GSE62913)","1 yr (GSE62913)","CTRL","MM","h Fetal Ventricle (GSE62913)","h Adult Heart (GSE62913)","h Adult Heart (our study)"],"range":["#111111","#7be04a","#e2231a","#2a4fd0","#8ff0e0","#a548e0","#b84fd8"]},"legend":{"orient":"none","legendX":207,"legendY":37,"labelFontSize":8,"labelColor":"#222","symbolSize":22,"symbolStrokeWidth":1.6,"rowPadding":2,"labelOffset":3,"title":null}},
"shape":{"field":"g","type":"nominal","scale":{"domain":["Day 20 (GSE62913)","1 yr (GSE62913)","CTRL","MM","h Fetal Ventricle (GSE62913)","h Adult Heart (GSE62913)","h Adult Heart (our study)"],"range":["M-1,-1L1,1M-1,1L1,-1","M-1,-1L1,1M-1,1L1,-1","circle","circle","M-1,-1L1,1M-1,1L1,-1","M-1,-1L1,1M-1,1L1,-1","circle"]},"legend":{"orient":"none","legendX":207,"legendY":37,"labelFontSize":8,"labelColor":"#222","symbolSize":22,"symbolStrokeWidth":1.6,"rowPadding":2,"labelOffset":3,"title":null}}}},
{"data":{"values":[{"t":"“Maturation”","x":14.9,"y":24.8}]},"mark":{"type":"text","fontSize":9.5,"color":"#222"},"encoding":{"text":{"field":"t"},"x":{"field":"x","type":"quantitative","axis":null,"scale":{"domain":[-20,60],"range":[47,204]}},"y":{"field":"y","type":"quantitative","axis":null,"scale":{"domain":[-20,20],"range":[193,35]}}}},
{"layer":[
{"data":{"values":[{"x":31.5,"x2":45,"y":24.6}]},"mark":{"type":"rule","strokeWidth":3.5,"color":"black"},"encoding":{"x":{"field":"x","type":"quantitative","axis":null,"scale":{"domain":[-20,60],"range":[47,204]}},"x2":{"field":"x2"},"y":{"field":"y","type":"quantitative","axis":null,"scale":{"domain":[-20,20],"range":[193,35]}}}},
{"data":{"values":[{"x":45.5,"y":24.6}]},"mark":{"type":"point","shape":"triangle-right","filled":true,"size":50,"color":"black","opacity":1},"encoding":{"x":{"field":"x","type":"quantitative","axis":null,"scale":{"domain":[-20,60],"range":[47,204]}},"y":{"field":"y","type":"quantitative","axis":null,"scale":{"domain":[-20,20],"range":[193,35]}}}}
]},
{"data":{"values":[{"t":"B"}]},"mark":{"type":"text","fontSize":34},"encoding":{"text":{"field":"t"},"x":{"field":"t","type":"nominal","axis":null,"scale":{"range":[318,318]}},"y":{"field":"t","type":"nominal","axis":null,"scale":{"range":[22,22]}}}},
{"data":{"values":[{"t":"RNA-seq"}]},"mark":{"type":"text","fontSize":19.5},"encoding":{"text":{"field":"t"},"x":{"field":"t","type":"nominal","axis":null,"scale":{"range":[443,443]}},"y":{"field":"t","type":"nominal","axis":null,"scale":{"range":[22,22]}}}},
{"encoding":{"x":{"field":"x","type":"quantitative","scale":{"domain":[-10,15],"range":[379,504]},"axis":{"orient":"bottom","offset":-645,"values":[-10,-5,0,5,10,15],"title":"MM","titleFontSize":11.5,"titleFontWeight":"bold","titlePadding":9,"labelFontSize":9.5,"tickSize":4}},"y":{"field":"y","type":"quantitative","scale":{"domain":[-10,20],"range":[174,49]},"axis":{"orient":"left","offset":-379,"values":[-10,-5,0,5,10,15,20],"title":"h adult heart","titleFontSize":11.5,"titleFontWeight":"bold","titlePadding":5,"labelFontSize":9.5,"tickSize":4}}},
"layer":[
{"data":{"name":"bBlob"},"mark":{"type":"area","color":"black"},"encoding":{"y":{"field":"lo","type":"quantitative","scale":{"domain":[-10,20],"range":[174,49]}},"y2":{"field":"hi"}}},
{"data":{"name":"bH"},"mark":{"type":"rule","color":"#111","strokeWidth":1.5,"strokeDash":[1.2,0.7]},"encoding":{"x2":{"field":"x2"}}},
{"data":{"name":"bV"},"mark":{"type":"rule","color":"#111","strokeWidth":1.4,"strokeDash":[1.2,0.8]},"encoding":{"y2":{"field":"y2"}}},
{"data":{"name":"bPts"},"mark":{"type":"circle","color":"black","size":2.6,"opacity":1}}
]},
{"data":{"values":[{"t":"r = 0.65 (p < 0.001)","x":1,"y":18.3}]},"mark":{"type":"text","fontSize":9.5,"color":"#222"},"encoding":{"text":{"field":"t"},"x":{"field":"x","type":"quantitative","axis":null,"scale":{"domain":[-10,15],"range":[379,504]}},"y":{"field":"y","type":"quantitative","axis":null,"scale":{"domain":[-10,20],"range":[174,49]}}}},
{"data":{"values":[{"t":"C"}]},"mark":{"type":"text","fontSize":34},"encoding":{"text":{"field":"t"},"x":{"field":"t","type":"nominal","axis":null,"scale":{"range":[545,545]}},"y":{"field":"t","type":"nominal","axis":null,"scale":{"range":[22,22]}}}},
{"data":{"values":[{"t":"Proteomics"}]},"mark":{"type":"text","fontSize":19.5},"encoding":{"text":{"field":"t"},"x":{"field":"t","type":"nominal","axis":null,"scale":{"range":[663,663]}},"y":{"field":"t","type":"nominal","axis":null,"scale":{"range":[22,22]}}}},
{"encoding":{"x":{"field":"x","type":"quantitative","scale":{"domain":[-15,15],"range":[603,728]},"axis":{"orient":"bottom","offset":-645,"values":[-15,-10,-5,0,5,10,15],"title":"MM","titleFontSize":11.5,"titleFontWeight":"bold","titlePadding":9,"labelFontSize":9.5,"tickSize":4}},"y":{"field":"y","type":"quantitative","scale":{"domain":[-15,15],"range":[174,48]},"axis":{"orient":"left","offset":-603,"values":[-15,-10,-5,0,5,10,15],"title":"h adult heart","titleFontSize":11.5,"titleFontWeight":"bold","titlePadding":5,"labelFontSize":9.5,"tickSize":4}}},
"layer":[
{"data":{"name":"cBlob"},"mark":{"type":"area","color":"black"},"encoding":{"y":{"field":"lo","type":"quantitative","scale":{"domain":[-15,15],"range":[174,48]}},"y2":{"field":"hi"}}},
{"data":{"name":"cPts"},"mark":{"type":"circle","color":"black","size":2.6,"opacity":1}}
]},
{"data":{"values":[{"t":"r = 0.72 (p < 0.001)","x":-1.9,"y":13.6}]},"mark":{"type":"text","fontSize":9.5,"color":"#222"},"encoding":{"text":{"field":"t"},"x":{"field":"x","type":"quantitative","axis":null,"scale":{"domain":[-15,15],"range":[603,728]}},"y":{"field":"y","type":"quantitative","axis":null,"scale":{"domain":[-15,15],"range":[174,48]}}}},
{"data":{"values":[{"t":"D"}]},"mark":{"type":"text","fontSize":33},"encoding":{"text":{"field":"t"},"x":{"field":"t","type":"nominal","axis":null,"scale":{"range":[14,14]}},"y":{"field":"t","type":"nominal","axis":null,"scale":{"range":[246,246]}}}},
{"data":{"values":[{"t":"RNA-seq"}]},"mark":{"type":"text","fontSize":19.5},"encoding":{"text":{"field":"t"},"x":{"field":"t","type":"nominal","axis":null,"scale":{"range":[157,157]}},"y":{"field":"t","type":"nominal","axis":null,"scale":{"range":[252,252]}}}},
{"data":{"name":"dHeat"},"mark":{"type":"rect"},"encoding":{"x":{"field":"c","type":"ordinal","scale":{"range":[32,282],"padding":0},"axis":{"orient":"top","offset":-328,"title":null,"domain":false,"ticks":false,"labelAngle":-90,"labelFontSize":13.5,"labelColor":"#111","labelPadding":6,"labelExpr":"datum.value==0?'h adult heart':datum.value<=4?'CTRL':'MM'"}},"y":{"field":"r","type":"ordinal","axis":null,"scale":{"range":[328,466],"padding":0}},"color":{"field":"v","type":"quantitative","legend":null,"scale":{"domain":[0,1.5,4.5,9],"range":["#7ff7c9","#93f8d2","#ffffff","#7a2df5"],"interpolate":"rgb"}}}},
{"data":{"name":"steps"},"mark":{"type":"rect"},"encoding":{"x":{"field":"s","type":"ordinal","scale":{"range":[83,222],"padding":0},"axis":{"orient":"bottom","offset":-330,"title":null,"domain":false,"ticks":false,"labelAngle":0,"labelFontSize":12,"labelColor":"#111","labelPadding":6,"values":[0,10,20],"labelExpr":"datum.value==0?'Min':datum.value==10?'log2(FC)':'Max'"}},"y":{"datum":"bar","type":"nominal","axis":null,"scale":{"range":[482,489],"padding":0}},"color":{"field":"s","type":"quantitative","legend":null,"scale":{"domain":[0,10,20],"range":["#7ff7c9","#ffffff","#7a2df5"],"interpolate":"rgb"}}}},
{"data":{"values":[{"t":"E"}]},"mark":{"type":"text","fontSize":36},"encoding":{"text":{"field":"t"},"x":{"field":"t","type":"nominal","axis":null,"scale":{"range":[14,14]}},"y":{"field":"t","type":"nominal","axis":null,"scale":{"range":[523,523]}}}},
{"data":{"values":[{"t":"Proteomics"}]},"mark":{"type":"text","fontSize":19.5},"encoding":{"text":{"field":"t"},"x":{"field":"t","type":"nominal","axis":null,"scale":{"range":[144,144]}},"y":{"field":"t","type":"nominal","axis":null,"scale":{"range":[539,539]}}}},
{"data":{"name":"eHeat"},"mark":{"type":"rect"},"encoding":{"x":{"field":"c","type":"ordinal","scale":{"range":[40,248],"padding":0},"axis":{"orient":"top","offset":-605,"title":null,"domain":false,"ticks":false,"labelAngle":-90,"labelFontSize":13.5,"labelColor":"#111","labelPadding":6,"labelExpr":"datum.value<3?'CTRL':'MM'"}},"y":{"field":"r","type":"ordinal","axis":null,"scale":{"range":[605,772],"padding":0}},"color":{"field":"v","type":"quantitative","legend":null,"scale":{"domain":[0,1.5,4.5,9],"range":["#7ff7c9","#93f8d2","#ffffff","#7a2df5"],"interpolate":"rgb"}}}},
{"data":{"name":"steps"},"mark":{"type":"rect"},"encoding":{"x":{"field":"s","type":"ordinal","scale":{"range":[63,233],"padding":0},"axis":{"orient":"bottom","offset":-22,"title":null,"domain":false,"ticks":false,"labelAngle":0,"labelFontSize":12,"labelColor":"#111","labelPadding":7,"values":[9,20],"labelExpr":"datum.value==9?'log2(FC)':'Max'"}},"y":{"datum":"bar","type":"nominal","axis":null,"scale":{"range":[788,797],"padding":0}},"color":{"field":"s","type":"quantitative","legend":null,"scale":{"domain":[0,10,20],"range":["#7ff7c9","#ffffff","#7a2df5"],"interpolate":"rgb"}}}},
{"data":{"values":[{"t":"Min"}]},"mark":{"type":"text","fontSize":12,"color":"#111"},"encoding":{"text":{"field":"t"},"x":{"field":"t","type":"nominal","axis":null,"scale":{"range":[59,59]}},"y":{"field":"t","type":"nominal","axis":null,"scale":{"range":[810,810]}}}},
{"data":{"values":[{"t":"F"}]},"mark":{"type":"text","fontSize":36},"encoding":{"text":{"field":"t"},"x":{"field":"t","type":"nominal","axis":null,"scale":{"range":[319,319]}},"y":{"field":"t","type":"nominal","axis":null,"scale":{"range":[245,245]}}}},
{"data":{"values":[{"t":"RNA-seq"}]},"mark":{"type":"text","fontSize":19.5},"encoding":{"text":{"field":"t"},"x":{"field":"t","type":"nominal","axis":null,"scale":{"range":[447,447]}},"y":{"field":"t","type":"nominal","axis":null,"scale":{"range":[254,254]}}}},
{"data":{"name":"fBars"},"encoding":{"y":{"field":"p","type":"nominal","sort":null,"scale":{"range":[347,452],"paddingInner":0.28,"paddingOuter":0.39,"align":0.36},"axis":{"orient":"left","offset":-478,"title":null,"labelFontSize":8.7,"tickSize":4,"labelPadding":1}}},
"layer":[
{"mark":{"type":"bar","stroke":"#222","strokeWidth":1.2},"encoding":{"x":{"field":"v","type":"quantitative","scale":{"domain":[0,15],"range":[478,581]},"axis":{"orient":"bottom","offset":-367,"values":[0,5,10,15],"title":"-log₁₀(p)","titleFontSize":8.5,"titleFontWeight":"normal","titlePadding":3,"labelFontSize":8,"labelAngle":-45,"tickSize":4}},"color":{"field":"d","type":"nominal","scale":{"domain":["Processes down-regulated in MM","Processes up-regulated in MM"],"range":["#e00f14","#2a47e0"]},"legend":{"orient":"none","legendX":340,"legendY":273,"labelFontSize":13,"labelColor":"#111","symbolType":"square","symbolSize":130,"symbolStrokeColor":"#111","symbolStrokeWidth":1.5,"rowPadding":1,"labelOffset":4,"title":null}}}},
{"mark":{"type":"text","align":"left","dx":3,"color":"white","fontSize":8.5},"encoding":{"x":{"datum":0,"type":"quantitative","axis":null,"scale":{"domain":[0,15],"range":[478,581]}},"text":{"field":"n"}}}
]},
{"data":{"values":[{"t":"G"}]},"mark":{"type":"text","fontSize":36},"encoding":{"text":{"field":"t"},"x":{"field":"t","type":"nominal","axis":null,"scale":{"range":[318,318]}},"y":{"field":"t","type":"nominal","axis":null,"scale":{"range":[524,524]}}}},
{"data":{"values":[{"t":"Proteomics"}]},"mark":{"type":"text","fontSize":19.5},"encoding":{"text":{"field":"t"},"x":{"field":"t","type":"nominal","axis":null,"scale":{"range":[441,441]}},"y":{"field":"t","type":"nominal","axis":null,"scale":{"range":[526,526]}}}},
{"data":{"name":"gBars"},"encoding":{"y":{"field":"p","type":"nominal","sort":null,"scale":{"range":[597,683],"paddingInner":0.28,"paddingOuter":0.32},"axis":{"orient":"left","offset":-475,"title":null,"labelFontSize":8.1,"tickSize":3,"labelPadding":1}}},
"layer":[
{"mark":{"type":"bar","stroke":"#222","strokeWidth":1},"encoding":{"x":{"field":"v","type":"quantitative","scale":{"domain":[0,20],"range":[475,562]},"axis":{"orient":"bottom","offset":-136,"values":[0,5,10,15,20],"title":"-log₁₀(p)","titleFontSize":8,"titleFontWeight":"normal","titlePadding":4,"labelFontSize":8,"labelAngle":-45,"tickSize":4}},"color":{"field":"d","type":"nominal","scale":{"domain":["Processes down-regulated in MM","Processes up-regulated in MM"],"range":["#e00f14","#2a47e0"]},"legend":{"orient":"none","legendX":331,"legendY":546,"labelFontSize":13,"labelColor":"#111","symbolType":"square","symbolSize":130,"symbolStrokeColor":"#111","symbolStrokeWidth":1.5,"rowPadding":2,"labelOffset":5,"title":null}}}},
{"mark":{"type":"text","align":"left","dx":2,"color":"white","fontSize":8},"encoding":{"x":{"datum":0,"type":"quantitative","axis":null,"scale":{"domain":[0,20],"range":[475,562]}},"text":{"field":"n"}}}
]},
{"data":{"values":[{"t":"H"}]},"mark":{"type":"text","fontSize":36},"encoding":{"text":{"field":"t"},"x":{"field":"t","type":"nominal","axis":null,"scale":{"range":[610,610]}},"y":{"field":"t","type":"nominal","axis":null,"scale":{"range":[245,245]}}}},
{"data":{"values":[{"t":"RNA-seq"}]},"mark":{"type":"text","fontSize":19.5},"encoding":{"text":{"field":"t"},"x":{"field":"t","type":"nominal","axis":null,"scale":{"range":[705,705]}},"y":{"field":"t","type":"nominal","axis":null,"scale":{"range":[253,253]}}}},
{"encoding":{"x":{"field":"g","type":"nominal","sort":["MYH7","IRX4","MYBPC3"],"scale":{"range":[650,792],"paddingInner":0.34,"paddingOuter":0.17},"axis":{"orient":"bottom","offset":-369,"title":null,"labelAngle":-45,"labelFontSize":9.5,"labelFontStyle":"italic","tickSize":3,"domainColor":"#111","domainWidth":1.2}},"y":{"field":"v","type":"quantitative","scale":{"domain":[0,4],"range":[450,335]},"axis":{"orient":"left","offset":-652,"values":[0,1,2,3,4],"title":"Expression relative CTRL","titleFontSize":11.4,"titleFontWeight":"bold","titlePadding":8,"labelFontSize":9,"tickSize":4,"domainColor":"#111","domainWidth":1.2}}},
"layer":[
{"data":{"name":"hBars"},"mark":{"type":"rule","color":"#111","strokeWidth":1.4},"encoding":{"xOffset":{"field":"s","scale":{"paddingInner":0.28}},"y2":{"field":"e"}}},
{"data":{"name":"hBars"},"mark":{"type":"tick","color":"#111","thickness":1.4,"bandSize":7},"encoding":{"xOffset":{"field":"s","scale":{"paddingInner":0.28}},"y":{"field":"e","type":"quantitative","scale":{"domain":[0,4],"range":[450,335]}}}},
{"data":{"name":"hBars"},"mark":{"type":"bar","stroke":"#111","strokeWidth":1.2},"encoding":{"xOffset":{"field":"s","scale":{"paddingInner":0.28}},"color":{"field":"s","type":"nominal","scale":{"domain":["CTRL","MM"],"range":["#e00f14","#2a47e0"]},"legend":{"orient":"none","legendX":741,"legendY":314,"labelFontSize":13,"labelColor":"#111","symbolType":"square","symbolSize":130,"symbolStrokeColor":"#111","symbolStrokeWidth":1.5,"rowPadding":2,"labelOffset":4,"title":null}}}},
{"data":{"name":"hBr"},"mark":{"type":"line","color":"#111","strokeWidth":1.3},"encoding":{"xOffset":{"field":"s","scale":{"paddingInner":0.28}},"detail":{"field":"g"}}},
{"data":{"name":"hBr"},"mark":{"type":"point","shape":"M0,-1L0,1","size":49,"color":"#111","strokeWidth":1.3,"opacity":1},"encoding":{"xOffset":{"field":"s","scale":{"paddingInner":0.28}}}},
{"data":{"name":"hSt"},"mark":{"type":"text","fontSize":11,"color":"#222"},"encoding":{"text":{"field":"t"}}}
]},
{"data":{"values":[{"t":"I"}]},"mark":{"type":"text","fontSize":36},"encoding":{"text":{"field":"t"},"x":{"field":"t","type":"nominal","axis":null,"scale":{"range":[611,611]}},"y":{"field":"t","type":"nominal","axis":null,"scale":{"range":[524,524]}}}},
{"data":{"values":[{"t":"Proteomics"}]},"mark":{"type":"text","fontSize":19.5},"encoding":{"text":{"field":"t"},"x":{"field":"t","type":"nominal","axis":null,"scale":{"range":[704,704]}},"y":{"field":"t","type":"nominal","axis":null,"scale":{"range":[526,526]}}}},
{"encoding":{"x":{"field":"g","type":"nominal","sort":["MYH7","IRX4","MYBPC3"],"scale":{"range":[640,789],"paddingInner":0.34,"paddingOuter":0.17},"axis":{"orient":"bottom","offset":-135.3,"title":null,"labelAngle":-45,"labelFontSize":9.5,"tickSize":3,"domainColor":"#111","domainWidth":1.2}},"y":{"field":"v","type":"quantitative","scale":{"domain":[0,5],"range":[683.7,565]},"axis":{"orient":"left","offset":-643,"values":[0,1,2,3,4,5],"title":"Expression relative CTRL","titleFontSize":10.8,"titleFontWeight":"bold","titlePadding":8,"labelFontSize":9.5,"tickSize":4,"domainColor":"#111","domainWidth":1.2}}},
"layer":[
{"data":{"name":"iBars"},"mark":{"type":"rule","color":"#111","strokeWidth":1.4},"encoding":{"xOffset":{"field":"s","scale":{"paddingInner":0.28}},"y2":{"field":"e"}}},
{"data":{"name":"iBars"},"mark":{"type":"tick","color":"#111","thickness":1.4,"bandSize":7},"encoding":{"xOffset":{"field":"s","scale":{"paddingInner":0.28}},"y":{"field":"e","type":"quantitative","scale":{"domain":[0,5],"range":[683.7,565]}}}},
{"data":{"name":"iBars"},"mark":{"type":"bar","stroke":"#111","strokeWidth":1.2},"encoding":{"xOffset":{"field":"s","scale":{"paddingInner":0.28}},"color":{"field":"s","type":"nominal","scale":{"domain":["CTRL","MM"],"range":["#e00f14","#2a47e0"]},"legend":{"orient":"none","legendX":736,"legendY":558,"labelFontSize":13,"labelColor":"#111","symbolType":"square","symbolSize":130,"symbolStrokeColor":"#111","symbolStrokeWidth":1.5,"rowPadding":2,"labelOffset":4,"title":null}}}},
{"data":{"name":"iBr"},"mark":{"type":"line","color":"#111","strokeWidth":1.3},"encoding":{"xOffset":{"field":"s","scale":{"paddingInner":0.28}},"detail":{"field":"g"}}},
{"data":{"name":"iBr"},"mark":{"type":"point","shape":"M0,-1L0,1","size":49,"color":"#111","strokeWidth":1.3,"opacity":1},"encoding":{"xOffset":{"field":"s","scale":{"paddingInner":0.28}}}},
{"data":{"name":"iSt"},"mark":{"type":"text","fontSize":11,"color":"#222"},"encoding":{"text":{"field":"t"}}}
]}
]}
